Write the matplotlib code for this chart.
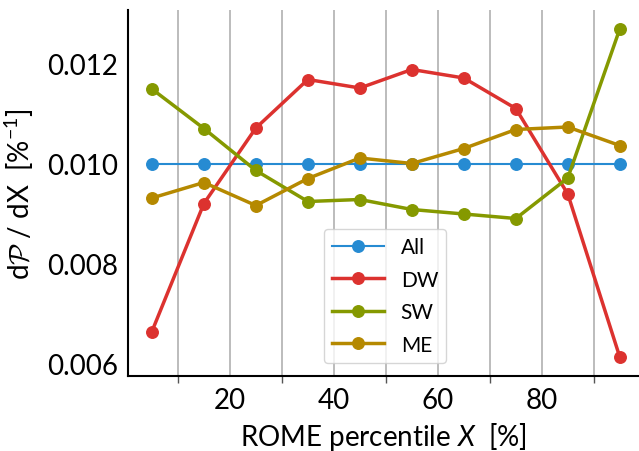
import matplotlib
matplotlib.use("Agg")
import matplotlib.pyplot as plt
from matplotlib.ticker import MultipleLocator

plt.rcParams['font.family'] = ['Lato', 'DejaVu Sans']
plt.rcParams['mathtext.fontset'] = 'custom'
plt.rcParams['mathtext.rm'] = 'Lato'
plt.rcParams['mathtext.it'] = 'Lato:italic'
plt.rcParams['mathtext.cal'] = 'cmsy10'

# ROME percentile bin centres
pct = [5, 15, 25, 35, 45, 55, 65, 75, 85, 95]

all_vals = [0.010] * 10
dw = [0.00664, 0.00920, 0.01071, 0.01168, 0.01151, 0.01188, 0.01171, 0.01110, 0.00939, 0.00613]
sw = [0.01149, 0.01070, 0.00986, 0.00924, 0.00928, 0.00908, 0.00899, 0.00890, 0.00971, 0.01269]
me = [0.00931, 0.00962, 0.00916, 0.00970, 0.01011, 0.01000, 0.01030, 0.01068, 0.01073, 0.01036]

fig = plt.figure(figsize=(6.39, 4.52), dpi=100)
ax = fig.add_axes([128 / 639, 1 - 377 / 452, (639 - 128) / 639, (377 - 11) / 452])

ax.plot(pct, all_vals, '-o', color='#268bd2', lw=1.5, ms=8.3, label='All')
ax.plot(pct, dw, '-o', color='#dc322f', lw=2.5, ms=8.3, label='DW')
ax.plot(pct, sw, '-o', color='#859900', lw=2.5, ms=8.3, label='SW')
ax.plot(pct, me, '-o', color='#b58900', lw=2.5, ms=8.3, label='ME')

ax.set_xlim(0.4, 98.7)
ax.set_ylim(0.00575, 0.01307)
ax.xaxis.set_major_locator(MultipleLocator(20))
ax.xaxis.set_minor_locator(MultipleLocator(10))
ax.set_yticks([0.006, 0.008, 0.010, 0.012])
ax.set_yticklabels(['0.006', '0.008', '0.010', '0.012'])
ax.grid(True, axis='x', which='both', color='#b0b0b0', lw=1.2)
ax.set_axisbelow(True)
ax.tick_params(axis='x', which='major', length=0, labelsize=20, pad=8)
ax.tick_params(axis='x', which='minor', length=5, width=1, color='#555555')
ax.tick_params(axis='y', length=0, labelsize=20, pad=7)

for s in ['top', 'right']:
    ax.spines[s].set_visible(False)
for s in ['left', 'bottom']:
    ax.spines[s].set_linewidth(1.5)

ax.set_xlabel(r'ROME percentile $X$  [%]', fontsize=20, labelpad=5)
ax.set_ylabel(r'd$\mathcal{P}$ / dX  [%$^{-1}$]', fontsize=20, labelpad=8)

ax.legend(loc='center', bbox_to_anchor=(0.503, 0.219),
          fontsize=15, framealpha=0.8, edgecolor='#cccccc',
          handlelength=2.5, labelspacing=0.6)

fig.savefig('out.png', dpi=100)
